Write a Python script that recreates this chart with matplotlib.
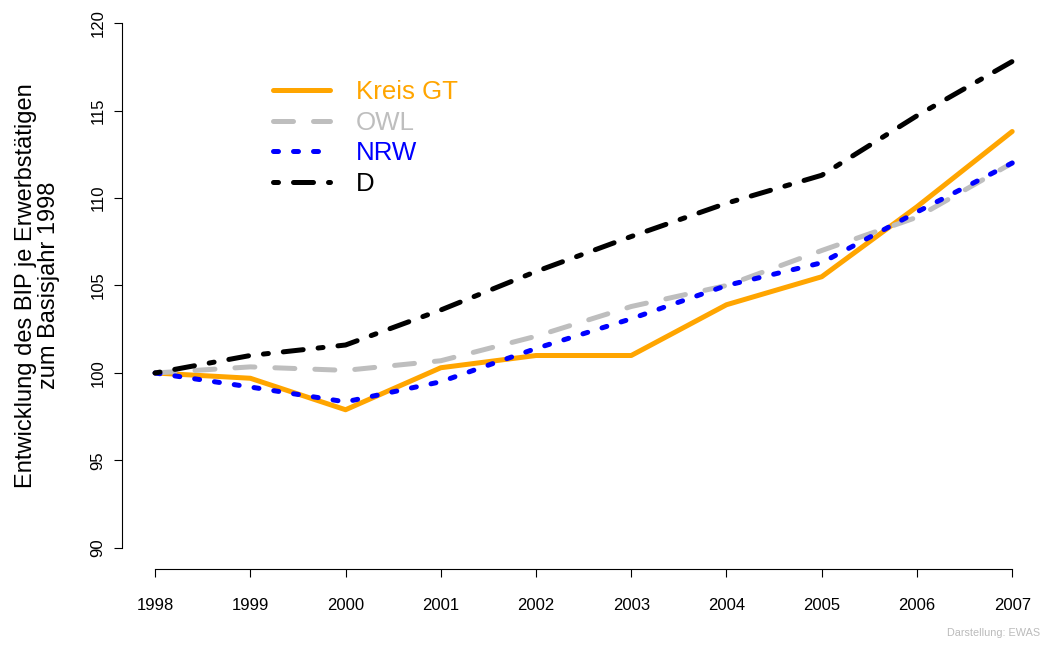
import matplotlib
matplotlib.use("Agg")
import matplotlib.pyplot as plt

plt.rcParams["font.family"] = ["Liberation Sans", "DejaVu Sans"]

years = [1998, 1999, 2000, 2001, 2002, 2003, 2004, 2005, 2006, 2007]
kreis_gt = [100.0, 99.7, 97.9, 100.3, 101.0, 101.0, 103.9, 105.5, 109.5, 113.8]
owl = [100.0, 100.35, 100.15, 100.7, 102.1, 103.8, 105.0, 107.0, 108.9, 112.0]
nrw = [100.0, 99.2, 98.35, 99.5, 101.4, 103.1, 105.0, 106.3, 109.2, 112.0]
d = [100.0, 101.0, 101.6, 103.6, 105.8, 107.8, 109.7, 111.3, 114.7, 117.8]

series = [
    ("Kreis GT", kreis_gt, "#FFA500", "-"),
    ("OWL", owl, "#BEBEBE", (0, (4, 4))),
    ("NRW", nrw, "#0000FF", (0, (1, 3))),
    ("D", d, "#000000", (0, (1, 3, 4, 3))),
]

fig = plt.figure(figsize=(10.45, 6.46), dpi=100)
ax = fig.add_axes([0.1165, 0.1192, 0.884, 0.8777])

for label, vals, color, ls in series:
    ax.plot(years, vals, color=color, linestyle=ls, linewidth=3.6,
            dash_capstyle="round", solid_capstyle="round",
            solid_joinstyle="round", dash_joinstyle="round", label=label)

ax.set_xlim(1997.65, 2007.35)
ax.set_ylim(88.8, 121.2)
ax.set_xticks(years)
ax.set_yticks([90, 95, 100, 105, 110, 115, 120])

for s in ["top", "right"]:
    ax.spines[s].set_visible(False)
ax.spines["left"].set_bounds(90, 120)
ax.spines["bottom"].set_bounds(1998, 2007)
for s in ["left", "bottom"]:
    ax.spines[s].set_linewidth(0.8)

ax.tick_params(axis="both", length=5.8, width=0.8, labelsize=12)
ax.tick_params(axis="x", pad=15)
ax.tick_params(axis="y", pad=6)
for t in ax.get_yticklabels():
    t.set_rotation(90)
    t.set_va("center")

ax.set_ylabel("Entwicklung des BIP je Erwerbstätigen\nzum Basisjahr 1998",
              fontsize=17, linespacing=1.05, labelpad=22)

ax.legend(loc="upper left", bbox_to_anchor=(273 / 1045, 1 - 80 / 646),
          bbox_transform=fig.transFigure, frameon=False, fontsize=18.6,
          handlelength=2.2, handletextpad=1.0, labelspacing=0.26,
          borderpad=0, borderaxespad=0, labelcolor="linecolor")

fig.text(0.995, 0.012, "Darstellung: EWAS", ha="right", va="bottom",
         fontsize=7.8, color="#bbbbbb")

fig.savefig("out.png", dpi=100)
